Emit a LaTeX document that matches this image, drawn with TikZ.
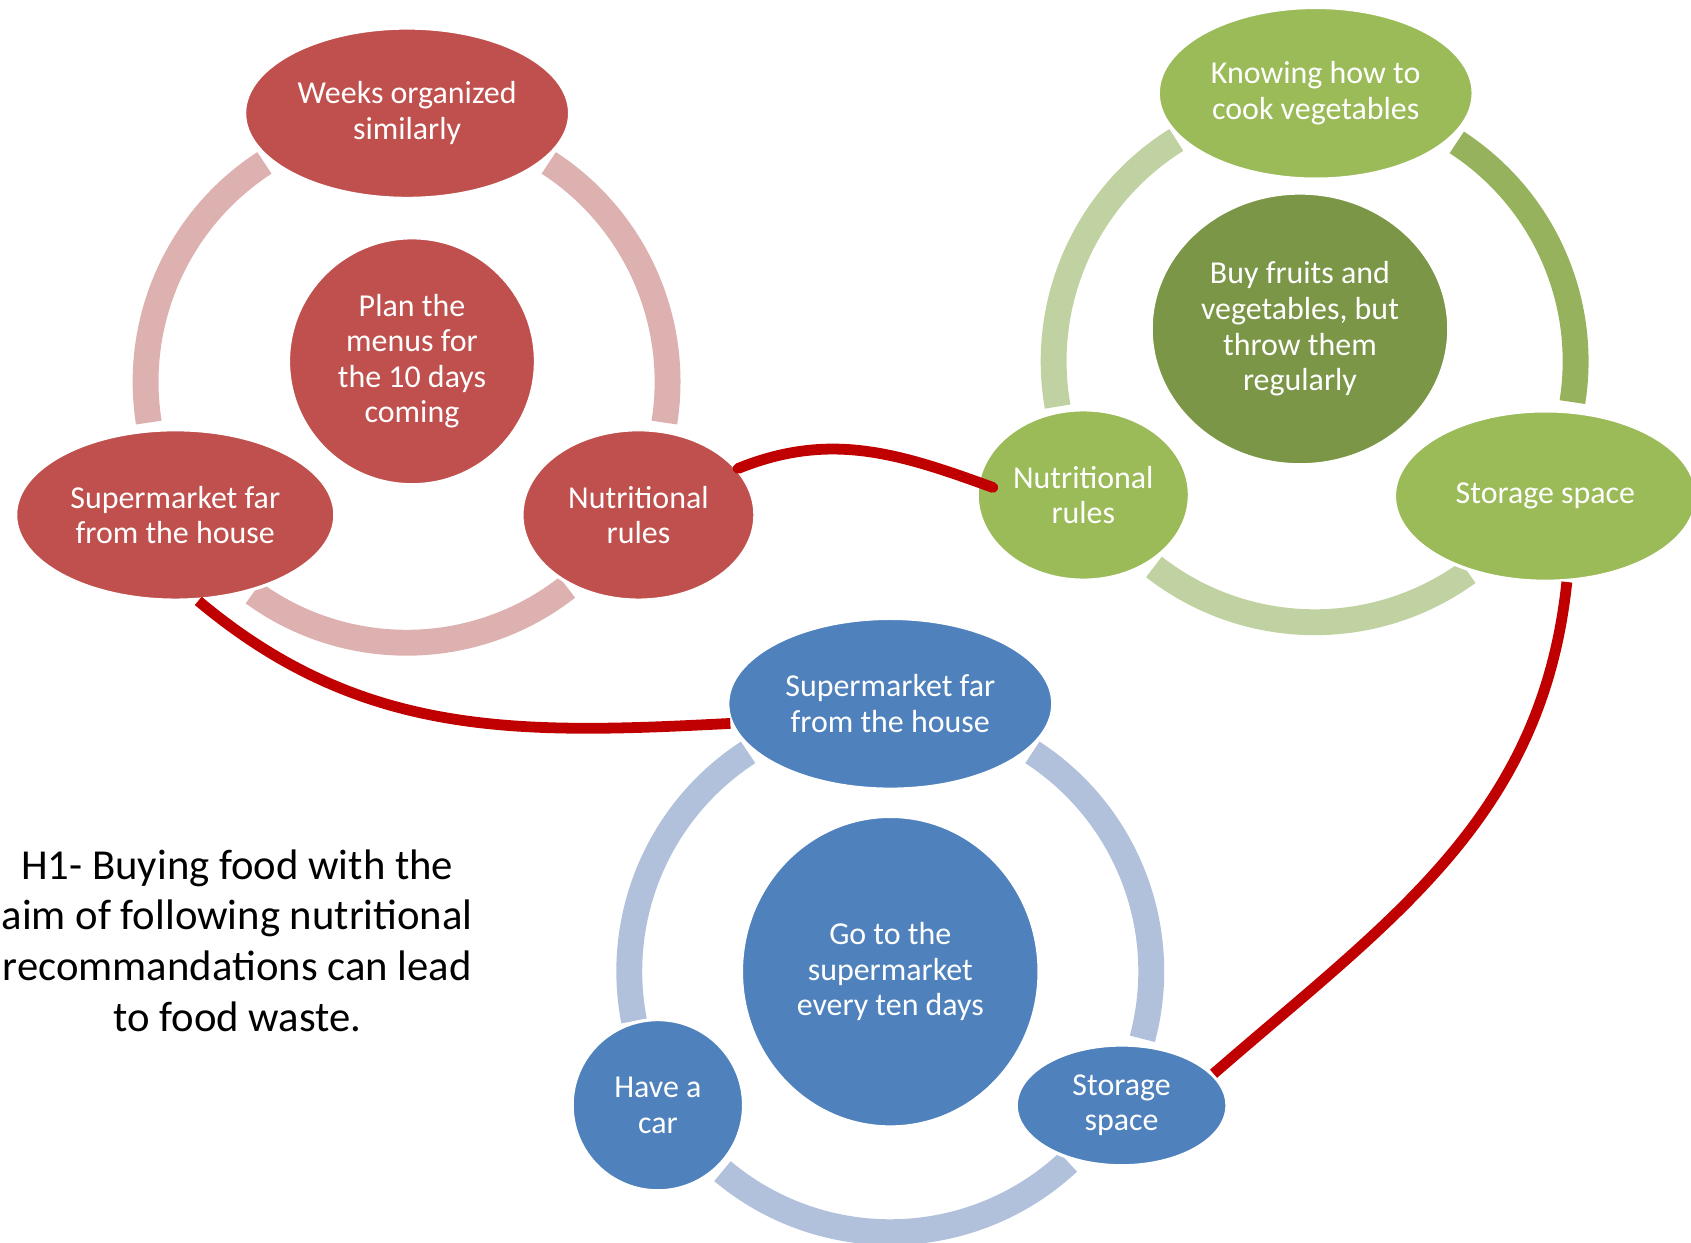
\documentclass[tikz,border=0pt]{standalone}
\usepackage{fontspec}
\setmainfont{Carlito}
\usetikzlibrary{shapes.geometric}

\definecolor{redfill}{HTML}{C0504D}
\definecolor{redring}{HTML}{DDB1B0}
\definecolor{greenfill}{HTML}{9BBB59}
\definecolor{greendark}{HTML}{7B9647}
\definecolor{greenring}{HTML}{C0D2A1}
\definecolor{greenringdark}{HTML}{97B25C}
\definecolor{bluefill}{HTML}{4F81BD}
\definecolor{bluering}{HTML}{B1C1DC}
\definecolor{linkred}{HTML}{C00000}

\begin{document}
\begin{tikzpicture}[x=0.5pt,y=0.5pt,
  every node/.style={font=\fontsize{14.8}{16.5}\selectfont},
  bubble/.style={ellipse,fill=#1,draw=white,line width=1.5pt,text=white,align=center,inner sep=0pt},
  ring/.style={draw=#1,line width=12pt},
  link/.style={draw=linkred,line width=5pt}]
  \useasboundingbox (0,0) rectangle (1568,1152);

  % Cycle centres
  \coordinate (rC) at (377,798);
  \coordinate (gC) at (1219,817);
  \coordinate (bC) at (825.5,251.4);

  % Rings
  \draw[ring=redring] (rC) ++(123:242) arc[start angle=123,end angle=189,radius=242];
  \draw[ring=redring] (rC) ++(-9:242) arc[start angle=-9,end angle=57,radius=242];
  \draw[ring=redring] (rC) ++(234:242) arc[start angle=234,end angle=308,radius=242];
  \draw[ring=greenring] (gC) ++(122:242) arc[start angle=122,end angle=190,radius=242];
  \draw[ring=greenringdark] (gC) ++(-9:242) arc[start angle=-9,end angle=57,radius=242];
  \draw[ring=greenring] (gC) ++(232:242) arc[start angle=232,end angle=306,radius=242];
  \draw[ring=bluering] (bC) ++(123:242) arc[start angle=123,end angle=191,radius=242];
  \draw[ring=bluering] (bC) ++(-15:242) arc[start angle=-15,end angle=57,radius=242];
  \draw[ring=bluering] (bC) ++(230:242) arc[start angle=230,end angle=313,radius=242];

  % Red cycle
  \node[bubble=redfill,minimum width=150.7pt,minimum height=79pt] (rTop) at (377.5,1047) {Weeks organized\\similarly};
  \node[bubble=redfill,minimum width=114.5pt,minimum height=114.5pt] (rMid) at (382,817) {Plan the\\menus for\\the 10 days\\coming};
  \node[bubble=redfill,minimum width=148pt,minimum height=79pt] (rLeft) at (162.5,674.5) {Supermarket far\\from the house};
  \node[bubble=redfill,minimum width=108pt,minimum height=79pt] (rRight) at (592,674.5) {Nutritional\\rules};

  % Green cycle
  \node[bubble=greenfill,minimum width=146pt,minimum height=79.6pt] (gTop) at (1220,1065.5) {Knowing how to\\cook vegetables};
  \node[bubble=greendark,minimum width=138pt,minimum height=126pt] (gMid) at (1205.4,847) {Buy fruits and\\vegetables, but\\throw them\\regularly};
  \node[bubble=greenfill,minimum width=98.4pt,minimum height=79pt] (gLeft) at (1004.5,693) {Nutritional\\rules};
  \node[bubble=greenfill,minimum width=140pt,minimum height=79pt] (gRight) at (1433,692) {Storage space};

  % Blue cycle
  \node[bubble=bluefill,minimum width=150.7pt,minimum height=79.2pt] (bTop) at (825.5,499.4) {Supermarket far\\from the house};
  \node[bubble=bluefill,minimum width=138pt,minimum height=144pt] (bMid) at (825.5,251) {Go to the\\supermarket\\every ten days};
  \node[bubble=bluefill,minimum width=79.5pt,minimum height=79.4pt] (bLeft) at (610,127.2) {Have a\\car};
  \node[bubble=bluefill,minimum width=97.7pt,minimum height=56pt] (bRight) at (1040,127) {Storage\\space};

  % Hypothesis
  \node[font=\fontsize{19.8}{23.5}\selectfont,align=center] (hypo) at (220,280) {H1- Buying food with the\\aim of following nutritional\\recommandations can lead\\to food waste.};

  % Links between the cycles
  \draw[link,line cap=round] (rRight.25) to[out=22,in=160] ([xshift=8pt,yshift=3.5pt]gLeft.west);
  \draw[link] (rLeft.285) to[out=-40,in=183] (bTop.187);
  \draw[link] (gRight.-76) to[out=-96,in=41] (bRight.19);
\end{tikzpicture}
\end{document}
